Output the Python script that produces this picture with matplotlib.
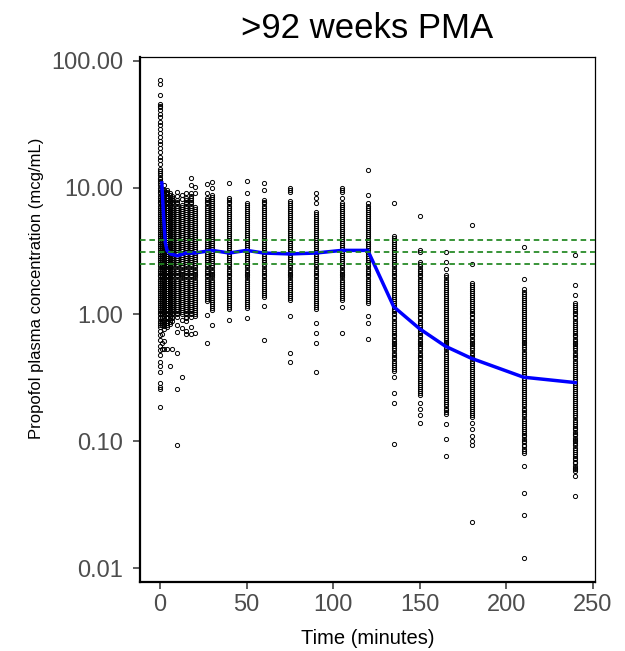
import numpy as np
import matplotlib
matplotlib.use("Agg")
import matplotlib.pyplot as plt

plt.rcParams['font.family'] = ['Liberation Sans', 'DejaVu Sans']

# observed concentrations (mcg/mL), one list per sampling time (minutes)
sample_times = [0, 1, 2.5, 4, 5.5, 7, 9.5, 12.5, 15, 18, 20, 27, 30, 40, 50,
                60, 75, 90, 105, 120, 135, 150, 165, 180, 210, 240]

conc_by_time = [
    # 0 min
    [70, 66, 54, 46, 44, 43, 41, 38, 36, 33, 31, 29, 27, 25, 23.5, 22, 20.5, 19,
     17.5, 16.5, 15.3, 14, 13.5, 13, 12.5, 12, 11.6, 11.2, 10.8, 10.4, 10, 9.65,
     9.3, 9.0, 8.65, 8.35, 8.05, 7.75, 7.5, 7.2, 6.95, 6.7, 6.45, 6.2, 6.0, 5.8,
     5.6, 5.4, 5.2, 5.0, 4.8, 4.65, 4.5, 4.3, 4.15, 4.0, 3.85, 3.7, 3.6, 3.45,
     3.35, 3.2, 3.1, 3.0, 2.9, 2.8, 2.7, 2.6, 2.5, 2.4, 2.3, 2.22, 2.14, 2.06,
     2.0, 1.92, 1.85, 1.78, 1.72, 1.66, 1.6, 1.54, 1.48, 1.43, 1.38, 1.33, 1.28,
     1.24, 1.19, 1.15, 1.11, 1.07, 1.03, 1.0, 0.96, 0.93, 0.89, 0.86, 0.83, 0.8,
     0.74, 0.69, 0.63, 0.56, 0.52, 0.48, 0.42, 0.39, 0.35, 0.29, 0.27, 0.26,
     0.187],
    # 1 min
    [9.65, 9.3, 9.0, 8.65, 8.35, 8.05, 7.75, 7.5, 7.2, 6.95, 6.7, 6.45, 6.2, 6.0,
     5.8, 5.6, 5.4, 5.2, 5.0, 4.8, 4.65, 4.5, 4.3, 4.15, 4.0, 3.85, 3.7, 3.6,
     3.45, 3.35, 3.2, 3.1, 3.0, 2.9, 2.8, 2.7, 2.6, 2.5, 2.4, 2.3, 2.22, 2.14,
     2.06, 2.0, 1.92, 1.85, 1.78, 1.72, 1.66, 1.6, 1.54, 1.48, 1.43, 1.38, 1.33,
     1.28, 1.24, 1.19, 1.15, 1.11, 1.07, 1.03, 1.0, 0.96, 0.93, 0.89, 0.86, 0.83,
     0.7, 0.6, 0.53],
    # 2.5 min
    [10.4, 9.5, 9.15, 8.8, 8.5, 8.2, 7.9, 7.6, 7.35, 7.05, 6.8, 6.55, 6.3, 6.1,
     5.9, 5.7, 5.5, 5.3, 5.1, 4.9, 4.72, 4.57, 4.4, 4.22, 4.07, 3.92, 3.77, 3.65,
     3.52, 3.4, 3.27, 3.15, 3.05, 2.95, 2.85, 2.75, 2.65, 2.55, 2.45, 2.35, 2.26,
     2.18, 2.1, 2.03, 1.96, 1.88, 1.81, 1.75, 1.69, 1.63, 1.57, 1.51, 1.45, 1.4,
     1.35, 1.3, 1.26, 1.21, 1.17, 1.13, 1.09, 1.05, 1.01, 0.98, 0.94, 0.91, 0.87,
     0.84, 0.81, 0.77, 0.62, 0.53],
    # 4 min
    [9.65, 9.3, 9.0, 8.65, 8.35, 8.05, 7.75, 7.5, 7.2, 6.95, 6.7, 6.45, 6.2, 6.0,
     5.8, 5.6, 5.4, 5.2, 5.0, 4.8, 4.65, 4.5, 4.3, 4.15, 4.0, 3.85, 3.7, 3.6,
     3.45, 3.35, 3.2, 3.1, 3.0, 2.9, 2.8, 2.7, 2.6, 2.5, 2.4, 2.3, 2.22, 2.14,
     2.06, 2.0, 1.92, 1.85, 1.78, 1.72, 1.66, 1.6, 1.54, 1.48, 1.43, 1.38, 1.33,
     1.28, 1.24, 1.19, 1.15, 1.11, 1.07, 1.03, 1.0, 0.96, 0.93, 0.89, 0.86, 0.83,
     0.8, 0.53],
    # 5.5 min
    [9.15, 8.8, 8.5, 8.2, 7.9, 7.6, 7.35, 7.05, 6.8, 6.55, 6.3, 6.1, 5.9, 5.7,
     5.5, 5.3, 5.1, 4.9, 4.72, 4.57, 4.4, 4.22, 4.07, 3.92, 3.77, 3.65, 3.52, 3.4,
     3.27, 3.15, 3.05, 2.95, 2.85, 2.75, 2.65, 2.55, 2.45, 2.35, 2.26, 2.18, 2.1,
     2.03, 1.96, 1.88, 1.81, 1.75, 1.69, 1.63, 1.57, 1.51, 1.45, 1.4, 1.35, 1.3,
     1.26, 1.21, 1.17, 1.13, 1.09, 1.05, 1.01, 0.98, 0.94, 0.91, 0.87, 0.84,
     0.39],
    # 7 min
    [8.65, 8.35, 8.05, 7.75, 7.5, 7.2, 6.95, 6.7, 6.45, 6.2, 6.0, 5.8, 5.6, 5.4,
     5.2, 5.0, 4.8, 4.65, 4.5, 4.3, 4.15, 4.0, 3.85, 3.7, 3.6, 3.45, 3.35, 3.2,
     3.1, 3.0, 2.9, 2.8, 2.7, 2.6, 2.5, 2.4, 2.3, 2.22, 2.14, 2.06, 2.0, 1.92,
     1.85, 1.78, 1.72, 1.66, 1.6, 1.54, 1.48, 1.43, 1.38, 1.33, 1.28, 1.24, 1.19,
     1.15, 1.11, 1.07, 1.03, 1.0, 0.96, 0.93, 0.89, 0.53],
    # 9.5 min
    [9.3, 8.6, 8.05, 7.75, 7.5, 7.2, 6.95, 6.7, 6.45, 6.2, 6.0, 5.8, 5.6, 5.4,
     5.2, 5.0, 4.8, 4.65, 4.5, 4.3, 4.15, 4.0, 3.85, 3.7, 3.6, 3.45, 3.35, 3.2,
     3.1, 3.0, 2.9, 2.8, 2.7, 2.6, 2.5, 2.4, 2.3, 2.22, 2.14, 2.06, 2.0, 1.92,
     1.85, 1.78, 1.72, 1.66, 1.6, 1.54, 1.48, 1.43, 1.38, 1.33, 1.28, 1.24, 1.19,
     1.15, 1.11, 1.07, 1.03, 1.0, 0.96, 0.83, 0.73, 0.5, 0.26, 0.093],
    # 12.5 min
    [8.8, 8.1, 7.35, 7.05, 6.8, 6.55, 6.3, 6.1, 5.9, 5.7, 5.5, 5.3, 5.1, 4.9,
     4.72, 4.57, 4.4, 4.22, 4.07, 3.92, 3.77, 3.65, 3.52, 3.4, 3.27, 3.15, 3.05,
     2.95, 2.85, 2.75, 2.65, 2.55, 2.45, 2.35, 2.26, 2.18, 2.1, 2.03, 1.96, 1.88,
     1.81, 1.75, 1.69, 1.63, 1.57, 1.51, 1.45, 1.4, 1.35, 1.3, 1.26, 1.21, 1.17,
     1.13, 1.09, 1.05, 1.01, 0.9, 0.78, 0.32],
    # 15 min
    [9.1, 8.35, 8.05, 7.75, 7.5, 7.2, 6.95, 6.7, 6.45, 6.2, 6.0, 5.8, 5.6, 5.4,
     5.2, 5.0, 4.8, 4.65, 4.5, 4.3, 4.15, 4.0, 3.85, 3.7, 3.6, 3.45, 3.35, 3.2,
     3.1, 3.0, 2.9, 2.8, 2.7, 2.6, 2.5, 2.4, 2.3, 2.22, 2.14, 2.06, 2.0, 1.92,
     1.85, 1.78, 1.72, 1.66, 1.6, 1.54, 1.48, 1.43, 1.38, 1.33, 1.28, 1.24, 1.19,
     1.15, 1.11, 1.07, 1.03, 1.0, 0.96, 0.93, 0.89, 0.74, 0.7],
    # 18 min
    [12.0, 10.4, 9.0, 8.65, 8.35, 8.05, 7.75, 7.5, 7.2, 6.95, 6.7, 6.45, 6.2,
     6.0, 5.8, 5.6, 5.4, 5.2, 5.0, 4.8, 4.65, 4.5, 4.3, 4.15, 4.0, 3.85, 3.7,
     3.6, 3.45, 3.35, 3.2, 3.1, 3.0, 2.9, 2.8, 2.7, 2.6, 2.5, 2.4, 2.3, 2.22,
     2.14, 2.06, 2.0, 1.92, 1.85, 1.78, 1.72, 1.66, 1.6, 1.54, 1.48, 1.43, 1.38,
     1.33, 1.28, 1.24, 1.19, 1.15, 1.11, 1.07, 1.03, 1.0, 0.96, 0.8, 0.7],
    # 20 min
    [10.2, 9.0, 7.05, 6.8, 6.55, 6.3, 6.1, 5.9, 5.7, 5.5, 5.3, 5.1, 4.9, 4.72,
     4.57, 4.4, 4.22, 4.07, 3.92, 3.77, 3.65, 3.52, 3.4, 3.27, 3.15, 3.05, 2.95,
     2.85, 2.75, 2.65, 2.55, 2.45, 2.35, 2.26, 2.18, 2.1, 2.03, 1.96, 1.88, 1.81,
     1.75, 1.69, 1.63, 1.57, 1.51, 1.45, 1.4, 1.35, 1.3, 1.26, 1.21, 1.17, 1.13,
     1.09, 1.05, 1.01, 0.98, 0.72],
    # 27 min
    [10.7, 9.1, 8.35, 8.05, 7.75, 7.5, 7.2, 6.95, 6.7, 6.45, 6.2, 6.0, 5.8, 5.6,
     5.4, 5.2, 5.0, 4.8, 4.65, 4.5, 4.3, 4.15, 4.0, 3.85, 3.7, 3.6, 3.45, 3.35,
     3.2, 3.1, 3.0, 2.9, 2.8, 2.7, 2.6, 2.5, 2.4, 2.3, 2.22, 2.14, 2.06, 2.0,
     1.92, 1.85, 1.78, 1.72, 1.66, 1.6, 1.54, 1.48, 1.43, 1.38, 1.33, 1.28, 0.99,
     0.6],
    # 30 min
    [11.1, 10.0, 8.8, 8.5, 8.2, 7.9, 7.6, 7.35, 7.05, 6.8, 6.55, 6.3, 6.1, 5.9,
     5.7, 5.5, 5.3, 5.1, 4.9, 4.72, 4.57, 4.4, 4.22, 4.07, 3.92, 3.77, 3.65, 3.52,
     3.4, 3.27, 3.15, 3.05, 2.95, 2.85, 2.75, 2.65, 2.55, 2.45, 2.35, 2.26, 2.18,
     2.1, 2.03, 1.96, 1.88, 1.81, 1.75, 1.69, 1.63, 1.57, 1.51, 1.45, 1.4, 1.35,
     1.3, 1.26, 1.21, 1.17, 1.13, 1.09, 0.83],
    # 40 min
    [10.8, 8.35, 8.05, 7.75, 7.5, 7.2, 6.95, 6.7, 6.45, 6.2, 6.0, 5.8, 5.6, 5.4,
     5.2, 5.0, 4.8, 4.65, 4.5, 4.3, 4.15, 4.0, 3.85, 3.7, 3.6, 3.45, 3.35, 3.2,
     3.1, 3.0, 2.9, 2.8, 2.7, 2.6, 2.5, 2.4, 2.3, 2.22, 2.14, 2.06, 2.0, 1.92,
     1.85, 1.78, 1.72, 1.66, 1.6, 1.54, 1.48, 1.43, 1.38, 1.33, 1.28, 1.24, 1.19,
     1.15, 1.11, 0.91],
    # 50 min
    [11.3, 9.0, 7.6, 7.35, 7.05, 6.8, 6.55, 6.3, 6.1, 5.9, 5.7, 5.5, 5.3, 5.1,
     4.9, 4.72, 4.57, 4.4, 4.22, 4.07, 3.92, 3.77, 3.65, 3.52, 3.4, 3.27, 3.15,
     3.05, 2.95, 2.85, 2.75, 2.65, 2.55, 2.45, 2.35, 2.26, 2.18, 2.1, 2.03, 1.96,
     1.88, 1.81, 1.75, 1.69, 1.63, 1.57, 1.51, 1.45, 1.4, 1.35, 1.3, 1.26, 1.21,
     1.17, 1.13, 0.94],
    # 60 min
    [10.9, 9.6, 8.05, 7.75, 7.5, 7.2, 6.95, 6.7, 6.45, 6.2, 6.0, 5.8, 5.6, 5.4,
     5.2, 5.0, 4.8, 4.65, 4.5, 4.3, 4.15, 4.0, 3.85, 3.7, 3.6, 3.45, 3.35, 3.2,
     3.1, 3.0, 2.9, 2.8, 2.7, 2.6, 2.5, 2.4, 2.3, 2.22, 2.14, 2.06, 2.0, 1.92,
     1.85, 1.78, 1.72, 1.66, 1.6, 1.54, 1.48, 1.43, 1.38, 1.16, 0.63],
    # 75 min
    [10.0, 9.6, 9.2, 7.9, 7.6, 7.35, 7.05, 6.8, 6.55, 6.3, 6.1, 5.9, 5.7, 5.5,
     5.3, 5.1, 4.9, 4.72, 4.57, 4.4, 4.22, 4.07, 3.92, 3.77, 3.65, 3.52, 3.4,
     3.27, 3.15, 3.05, 2.95, 2.85, 2.75, 2.65, 2.55, 2.45, 2.35, 2.26, 2.18, 2.1,
     2.03, 1.96, 1.88, 1.81, 1.75, 1.69, 1.63, 1.57, 1.51, 1.45, 1.4, 1.35, 1.3,
     0.97, 0.5, 0.42],
    # 90 min
    [9.1, 8.3, 7.6, 6.45, 6.2, 6.0, 5.8, 5.6, 5.4, 5.2, 5.0, 4.8, 4.65, 4.5, 4.3,
     4.15, 4.0, 3.85, 3.7, 3.6, 3.45, 3.35, 3.2, 3.1, 3.0, 2.9, 2.8, 2.7, 2.6,
     2.5, 2.4, 2.3, 2.22, 2.14, 2.06, 2.0, 1.92, 1.85, 1.78, 1.72, 1.66, 1.6,
     1.54, 1.48, 1.43, 1.38, 1.33, 1.28, 1.24, 1.19, 1.15, 1.11, 0.86, 0.71, 0.6,
     0.35],
    # 105 min
    [10.0, 9.6, 9.3, 8.3, 7.6, 7.35, 7.05, 6.8, 6.55, 6.3, 6.1, 5.9, 5.7, 5.5,
     5.3, 5.1, 4.9, 4.72, 4.57, 4.4, 4.22, 4.07, 3.92, 3.77, 3.65, 3.52, 3.4,
     3.27, 3.15, 3.05, 2.95, 2.85, 2.75, 2.65, 2.55, 2.45, 2.35, 2.26, 2.18, 2.1,
     2.03, 1.96, 1.88, 1.81, 1.75, 1.69, 1.63, 1.57, 1.51, 1.45, 1.4, 1.35, 1.3,
     1.15, 0.72],
    # 120 min
    [13.8, 8.8, 7.5, 7.2, 6.95, 6.7, 6.45, 6.2, 6.0, 5.8, 5.6, 5.4, 5.2, 5.0,
     4.8, 4.65, 4.5, 4.3, 4.15, 4.0, 3.85, 3.7, 3.6, 3.45, 3.35, 3.2, 3.1, 3.0,
     2.9, 2.8, 2.7, 2.6, 2.5, 2.4, 2.3, 2.22, 2.14, 2.06, 2.0, 1.92, 1.85, 1.78,
     1.72, 1.66, 1.6, 1.54, 1.48, 1.43, 1.38, 1.33, 1.28, 1.24, 0.98, 0.86, 0.64],
    # 135 min
    [7.6, 4.15, 4.0, 3.85, 3.7, 3.6, 3.45, 3.35, 3.2, 3.1, 3.0, 2.9, 2.8, 2.7,
     2.6, 2.5, 2.4, 2.3, 2.22, 2.14, 2.06, 2.0, 1.92, 1.85, 1.78, 1.72, 1.66, 1.6,
     1.54, 1.48, 1.43, 1.38, 1.33, 1.28, 1.24, 1.19, 1.15, 1.11, 1.07, 1.03, 1.0,
     0.96, 0.93, 0.89, 0.86, 0.83, 0.8, 0.77, 0.74, 0.72, 0.69, 0.67, 0.64, 0.62,
     0.6, 0.58, 0.56, 0.54, 0.52, 0.5, 0.48, 0.465, 0.45, 0.43, 0.415, 0.4, 0.385,
     0.37, 0.36, 0.32, 0.24, 0.2, 0.095],
    # 150 min
    [6.0, 3.2, 3.1, 2.6, 2.5, 2.4, 2.3, 2.22, 2.14, 2.06, 2.0, 1.92, 1.85, 1.78,
     1.72, 1.66, 1.6, 1.54, 1.48, 1.43, 1.38, 1.33, 1.28, 1.24, 1.19, 1.15, 1.11,
     1.07, 1.03, 1.0, 0.96, 0.93, 0.89, 0.86, 0.83, 0.8, 0.77, 0.74, 0.72, 0.69,
     0.67, 0.64, 0.62, 0.6, 0.58, 0.56, 0.54, 0.52, 0.5, 0.48, 0.465, 0.45, 0.43,
     0.415, 0.4, 0.385, 0.37, 0.36, 0.345, 0.335, 0.32, 0.31, 0.3, 0.29, 0.28,
     0.27, 0.26, 0.25, 0.24, 0.23, 0.2, 0.18, 0.16, 0.14],
    # 165 min
    [3.1, 2.6, 2.3, 2.03, 1.96, 1.88, 1.81, 1.75, 1.69, 1.63, 1.57, 1.51, 1.45,
     1.4, 1.35, 1.3, 1.26, 1.21, 1.17, 1.13, 1.09, 1.05, 1.01, 0.98, 0.94, 0.91,
     0.87, 0.84, 0.81, 0.78, 0.755, 0.73, 0.705, 0.68, 0.655, 0.63, 0.61, 0.59,
     0.57, 0.55, 0.53, 0.51, 0.49, 0.473, 0.457, 0.44, 0.423, 0.407, 0.393, 0.378,
     0.365, 0.352, 0.34, 0.327, 0.315, 0.305, 0.295, 0.285, 0.275, 0.265, 0.255,
     0.245, 0.235, 0.226, 0.218, 0.21, 0.203, 0.196, 0.188, 0.181, 0.175, 0.169,
     0.163, 0.137, 0.105, 0.077],
    # 180 min
    [5.1, 2.5, 1.78, 1.72, 1.66, 1.6, 1.54, 1.48, 1.43, 1.38, 1.33, 1.28, 1.24,
     1.19, 1.15, 1.11, 1.07, 1.03, 1.0, 0.96, 0.93, 0.89, 0.86, 0.83, 0.8, 0.77,
     0.74, 0.72, 0.69, 0.67, 0.64, 0.62, 0.6, 0.58, 0.56, 0.54, 0.52, 0.5, 0.48,
     0.465, 0.45, 0.43, 0.415, 0.4, 0.385, 0.37, 0.36, 0.345, 0.335, 0.32, 0.31,
     0.3, 0.29, 0.28, 0.27, 0.26, 0.25, 0.24, 0.23, 0.222, 0.214, 0.206, 0.2,
     0.192, 0.185, 0.178, 0.172, 0.166, 0.16, 0.154, 0.14, 0.125, 0.11, 0.1,
     0.093, 0.023],
    # 210 min
    [3.4, 1.9, 1.6, 1.51, 1.45, 1.4, 1.35, 1.3, 1.26, 1.21, 1.17, 1.13, 1.09,
     1.05, 1.01, 0.98, 0.94, 0.91, 0.87, 0.84, 0.81, 0.78, 0.755, 0.73, 0.705,
     0.68, 0.655, 0.63, 0.61, 0.59, 0.57, 0.55, 0.53, 0.51, 0.49, 0.473, 0.457,
     0.44, 0.423, 0.407, 0.393, 0.378, 0.365, 0.352, 0.34, 0.327, 0.315, 0.305,
     0.295, 0.285, 0.275, 0.265, 0.255, 0.245, 0.235, 0.226, 0.218, 0.21, 0.203,
     0.196, 0.188, 0.181, 0.175, 0.169, 0.163, 0.157, 0.151, 0.145, 0.14, 0.135,
     0.13, 0.126, 0.121, 0.117, 0.113, 0.109, 0.105, 0.101, 0.098, 0.094, 0.091,
     0.087, 0.084, 0.081, 0.064, 0.039, 0.026, 0.012],
    # 240 min
    [2.95, 1.7, 1.43, 1.24, 1.19, 1.15, 1.11, 1.07, 1.03, 1.0, 0.96, 0.93, 0.89,
     0.86, 0.83, 0.8, 0.77, 0.74, 0.72, 0.69, 0.67, 0.64, 0.62, 0.6, 0.58, 0.56,
     0.54, 0.52, 0.5, 0.48, 0.465, 0.45, 0.43, 0.415, 0.4, 0.385, 0.37, 0.36,
     0.345, 0.335, 0.32, 0.31, 0.3, 0.29, 0.28, 0.27, 0.26, 0.25, 0.24, 0.23,
     0.222, 0.214, 0.206, 0.2, 0.192, 0.185, 0.178, 0.172, 0.166, 0.16, 0.154,
     0.148, 0.143, 0.138, 0.133, 0.128, 0.124, 0.119, 0.115, 0.111, 0.107, 0.103,
     0.1, 0.096, 0.093, 0.089, 0.086, 0.083, 0.08, 0.077, 0.074, 0.072, 0.069,
     0.067, 0.064, 0.062, 0.06, 0.058, 0.053, 0.037],
]

# median profile
median_times = [1, 2, 3, 4, 6, 10, 15, 20, 30, 40, 50, 60, 75, 90, 105, 120,
                135, 150, 165, 180, 210, 240]
median_conc = [10.9, 6.0, 3.7, 3.2, 3.0, 2.9, 3.05, 3.05, 3.2, 3.05, 3.2, 3.05,
               3.0, 3.05, 3.2, 3.2, 1.15, 0.77, 0.56, 0.45, 0.32, 0.29]

# target range reference lines
target_levels = [2.5, 3.1, 3.87]

fig = plt.figure(figsize=(6.25, 6.51), dpi=100)
ax = fig.add_axes([0.224, 0.106, 0.728, 0.8064])

for t, vals in zip(sample_times, conc_by_time):
    ax.plot([t] * len(vals), vals, linestyle='none', marker='o', ms=3.0,
            mfc='none', mec='black', mew=0.7, zorder=1)

ax.plot(median_times, median_conc, color='#0000FF', lw=2.5, zorder=2)
for lev in target_levels:
    ax.axhline(lev, color='#1F861F', lw=1.25, ls=(0, (3.2, 2.2)), zorder=3)

ax.set_yscale('log')
ax.set_ylim(10 ** -2.11, 10 ** 2.03)
ax.set_xlim(-11.6, 251.3)
ax.set_yticks([0.01, 0.1, 1, 10, 100])
ax.set_yticklabels(['0.01', '0.10', '1.00', '10.00', '100.00'])
ax.minorticks_off()
ax.set_xticks([0, 50, 100, 150, 200, 250])

ax.tick_params(axis='both', labelsize=17, labelcolor='#4D4D4D', color='#333333',
               length=5, width=1.1)
ax.tick_params(axis='y', pad=7)
ax.tick_params(axis='x', pad=4)
for side in ['left', 'bottom']:
    ax.spines[side].set_linewidth(1.6)
for side in ['top', 'right']:
    ax.spines[side].set_linewidth(0.9)

ax.set_title('>92 weeks PMA', fontsize=25, pad=14)
ax.set_xlabel('Time (minutes)', fontsize=14.5, labelpad=9)
ax.set_ylabel('Propofol plasma concentration (mcg/mL)', fontsize=12)
ax.yaxis.set_label_coords(-0.212, 0.56)

fig.savefig('out.png', dpi=100)
